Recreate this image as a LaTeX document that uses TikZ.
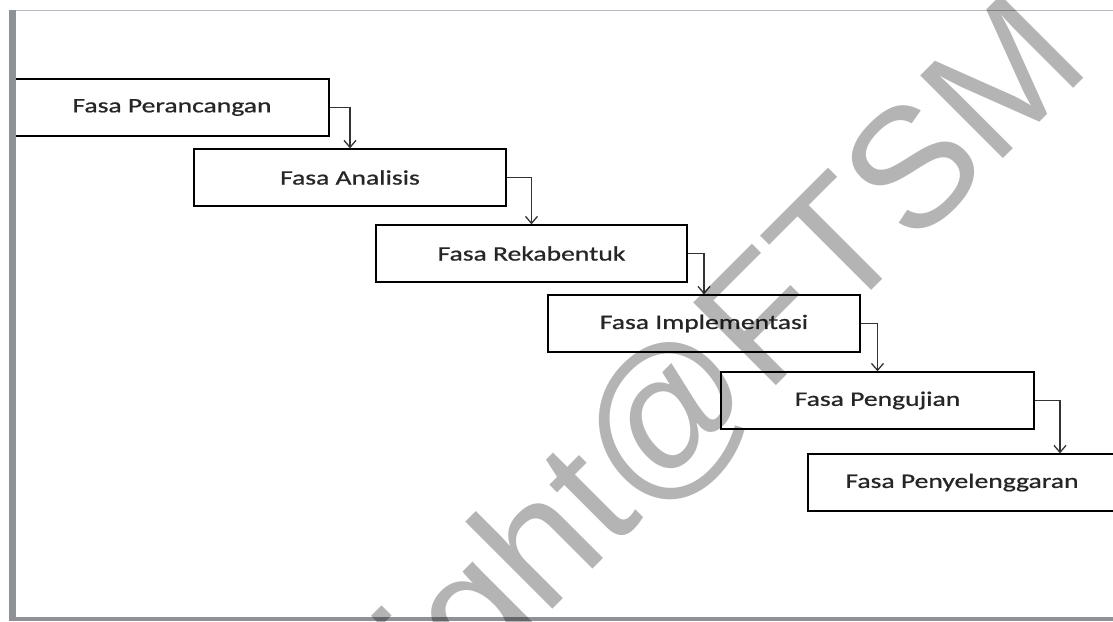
\documentclass[tikz,border=0pt]{standalone}
\usepackage{fontspec}
\usetikzlibrary{arrows.meta}
\newfontfamily\boxfont[FakeStretch=1.34,FakeBold=0.8]{Carlito}
\newfontfamily\wmfont{Liberation Sans}
\definecolor{wmgray}{HTML}{B4B4B4}
\definecolor{framebar}{HTML}{8E9296}
\definecolor{frametop}{HTML}{B2B9C0}
\definecolor{txt}{HTML}{262626}
\tikzset{
  phase/.style={draw=black, line width=1.3pt, minimum height=57pt, inner sep=0pt,
    font=\boxfont\fontsize{20.6}{24}\selectfont, text=txt},
  flow/.style={draw=black!80, line width=1.3pt, -{Straight Barb[length=7pt,width=12pt]}},
}
\begin{document}
\begin{tikzpicture}[x=1pt,y=-1pt]
\useasboundingbox (0,0) rectangle (1113,621);
\clip (0,0) rectangle (1113,621);
\fill[white] (0,0) rectangle (1113,621);
% boxes
\node[phase, minimum width=314pt] (b1) at (172,107.5) {Fasa Perancangan};
\node[phase, minimum width=312pt] (b2) at (350,177.5) {Fasa Analisis};
\node[phase, minimum width=311pt] (b3) at (531.5,253.5) {Fasa Rekabentuk};
\node[phase, minimum width=312pt] (b4) at (704,323.5) {Fasa Implementasi};
\node[phase, minimum width=313pt] (b5) at (877.5,400.5) {Fasa Pengujian};
\node[phase, minimum width=308pt] (b6) at (962,482.5) {Fasa Penyelenggaran};
\coordinate (c5) at (1060,454);
% connectors
\draw[flow] (b1.east) -| (b2.north);
\draw[flow] (b2.east) -| (b3.north);
\draw[flow] (b3.east) -| (b4.north);
\draw[flow] (b4.east) -| (b5.north);
\draw[flow] (b5.east) -| (b6.north -| c5);
% frame
\fill[framebar] (8.6,10) rectangle (15.5,621);
\fill[framebar] (8.6,616.5) rectangle (1113,621);
\draw[frametop, line width=1.5pt] (15.5,10.5) -- (1113,10.5);
% watermark
\begin{scope}[blend mode=multiply]
\node[anchor=base east, rotate=45, inner sep=0pt, text=wmgray,
  font=\wmfont\fontsize{170}{170}\selectfont] (wm) at (1094,68) {Copyright@FTSM};
\end{scope}
\end{tikzpicture}
\end{document}
